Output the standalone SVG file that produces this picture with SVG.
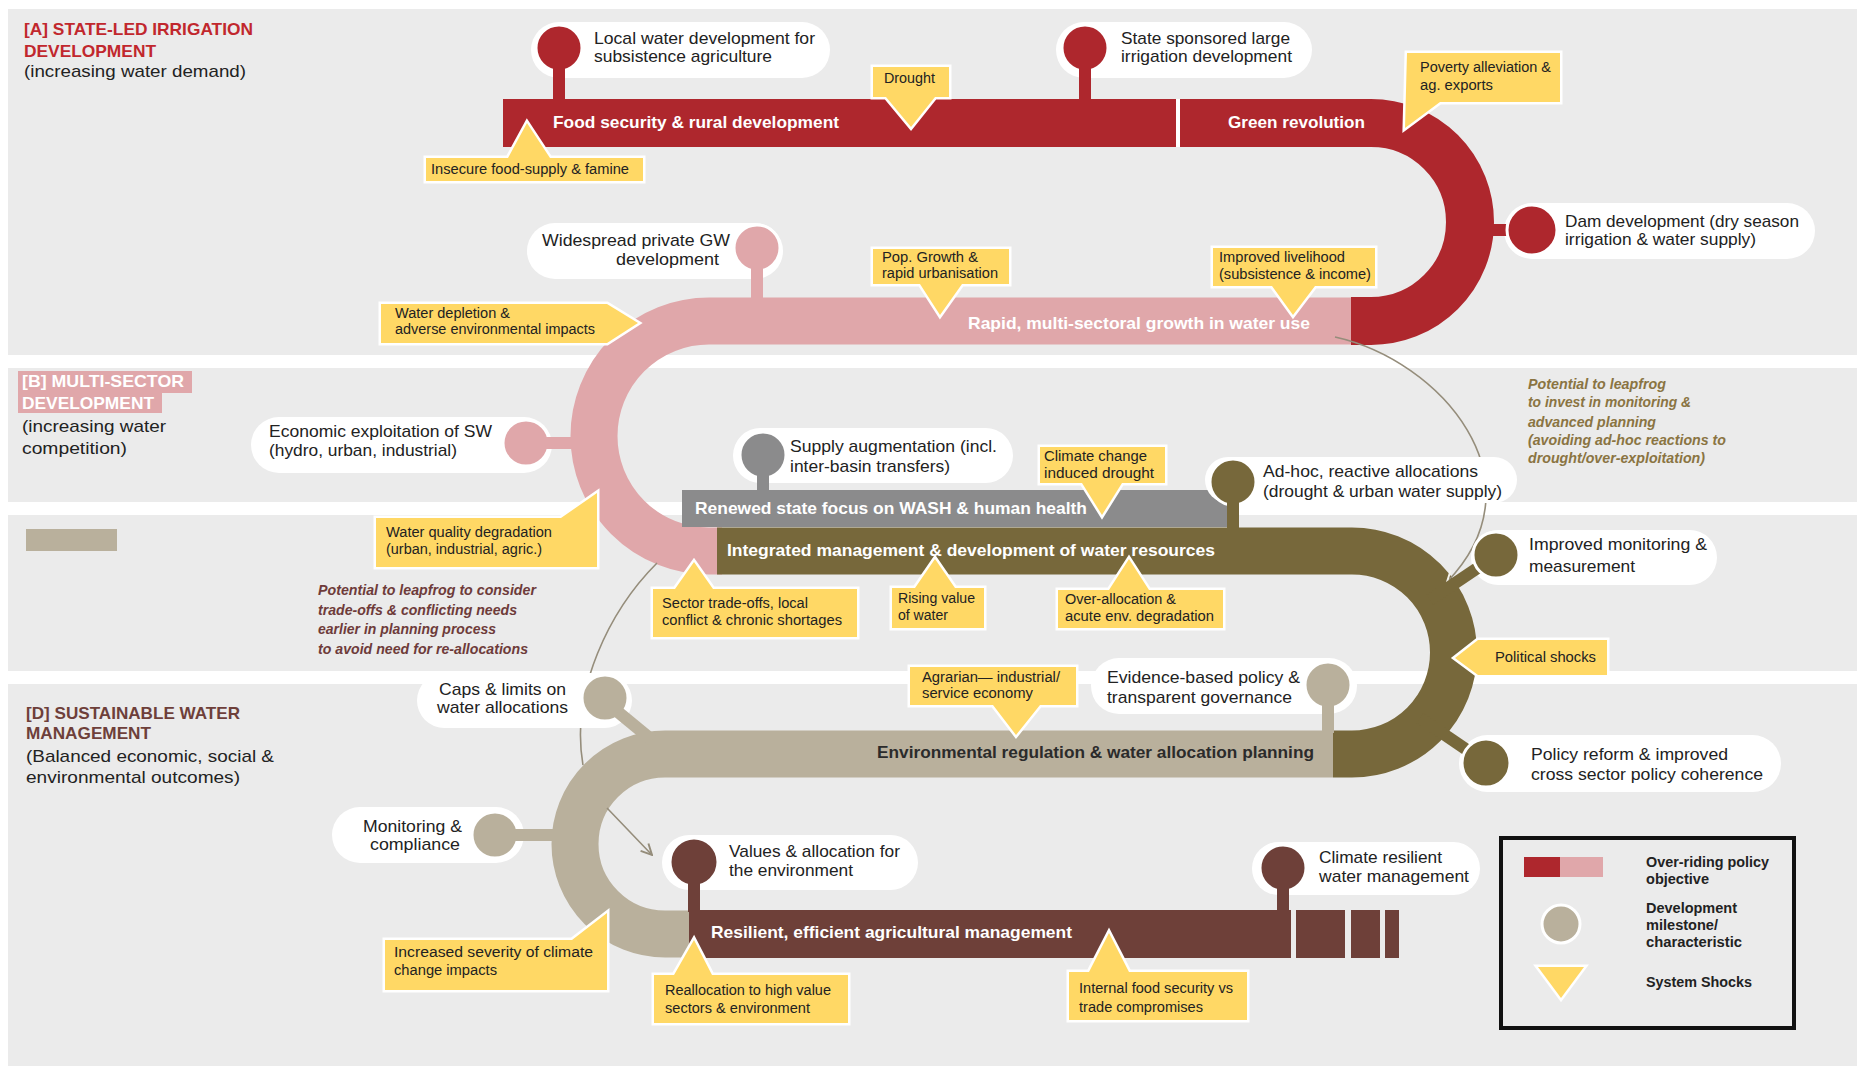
<svg xmlns="http://www.w3.org/2000/svg" width="1857" height="1068" viewBox="0 0 1857 1068">
<defs>
<style>
.bg{fill:#ebebeb}
.bub{fill:#fff}
.ms{stroke:#fff;stroke-width:3}
.shock{fill:#ffd865;stroke:#fff;stroke-width:5;paint-order:stroke;stroke-linejoin:miter}
text{font-family:"Liberation Sans",Arial,Helvetica,sans-serif}
.nt{font-size:17px;fill:#222}
.st{font-size:14px;fill:#222}
.pl{font-size:17px;font-weight:bold;fill:#fff}
.hd{font-size:17px;font-weight:bold}
.sub{font-size:17px;fill:#222}
.lf{font-size:14px;font-style:italic;font-weight:bold}
.lg{font-size:14px;font-weight:bold;fill:#222}
.conn{fill:none;stroke:#958d7b;stroke-width:1.6}
.red{fill:#ae272d;stroke:#ae272d}
.pink{fill:#e0a7aa;stroke:#e0a7aa}
.gray{fill:#8b8b8c;stroke:#8b8b8c}
.olive{fill:#77683b;stroke:#77683b}
.tan{fill:#b9b09c;stroke:#b9b09c}
.brown{fill:#6e4039;stroke:#6e4039}
.pipe{fill:none}
.stem{stroke-width:12;fill:none}
.ms{stroke:#fff;stroke-width:3}
.dk{fill:#2b2b2b}
</style>
<marker id="ahw" viewBox="0 0 12 12" refX="11" refY="6" markerWidth="13" markerHeight="13" orient="auto" markerUnits="userSpaceOnUse"><path d="M1,1 L11,6 L1,11" fill="none" stroke="#f4f2ec" stroke-width="1.8"/></marker>
<marker id="ahg" viewBox="0 0 12 12" refX="11" refY="6" markerWidth="13" markerHeight="13" orient="auto" markerUnits="userSpaceOnUse"><path d="M1,1 L11,6 L1,11" fill="none" stroke="#958d7b" stroke-width="1.8"/></marker>
</defs>

<rect width="1857" height="1068" fill="#fff"/>
<g id="panels">
<rect class="bg" x="8" y="9" width="1849" height="346"/>
<rect class="bg" x="8" y="368" width="1849" height="134"/>
<rect class="bg" x="8" y="515" width="1849" height="156"/>
<rect class="bg" x="8" y="684" width="1849" height="382"/>
</g>

<g id="panel-labels">
<text class="hd" x="24" y="35" fill="#c1272d" textLength="229" lengthAdjust="spacingAndGlyphs">[A] STATE-LED IRRIGATION</text>
<text class="hd" x="24" y="57" fill="#c1272d" textLength="132" lengthAdjust="spacingAndGlyphs">DEVELOPMENT</text>
<text class="sub" x="24" y="77" textLength="222" lengthAdjust="spacingAndGlyphs">(increasing water demand)</text>
<rect x="18" y="371" width="174" height="22" fill="#e0a7aa"/>
<rect x="18" y="393" width="144" height="20" fill="#e0a7aa"/>
<text class="hd" x="22" y="387" fill="#fff" textLength="162" lengthAdjust="spacingAndGlyphs">[B] MULTI-SECTOR</text>
<text class="hd" x="22" y="409" fill="#fff" textLength="132" lengthAdjust="spacingAndGlyphs">DEVELOPMENT</text>
<text class="sub" x="22" y="432" textLength="144" lengthAdjust="spacingAndGlyphs">(increasing water</text>
<text class="sub" x="22" y="454" textLength="105" lengthAdjust="spacingAndGlyphs">competition)</text>
<rect x="26" y="529" width="91" height="22" fill="#b9b09c"/>
<text class="hd" x="26" y="719" fill="#6e3f3a" textLength="214" lengthAdjust="spacingAndGlyphs">[D] SUSTAINABLE WATER</text>
<text class="hd" x="26" y="739" fill="#6e3f3a" textLength="125" lengthAdjust="spacingAndGlyphs">MANAGEMENT</text>
<text class="sub" x="26" y="762" textLength="248" lengthAdjust="spacingAndGlyphs">(Balanced economic, social &amp;</text>
<text class="sub" x="26" y="783" textLength="214" lengthAdjust="spacingAndGlyphs">environmental outcomes)</text>
</g>

<g id="pipe-pink">
<path class="pink pipe" d="M1351,321 H709 A115,115 0 0 0 709,551 H722" stroke-width="47"/>
<text class="pl" x="968" y="329" textLength="342" lengthAdjust="spacingAndGlyphs">Rapid, multi-sectoral growth in water use</text>
</g>
<g id="pipe-red">
<path class="red pipe" d="M503,123 H1371 A99,99 0 0 1 1371,321 H1351" stroke-width="48"/>
<rect x="1176" y="99" width="4" height="48" fill="#fff"/>
<text class="pl" x="553" y="128" textLength="286" lengthAdjust="spacingAndGlyphs">Food security &amp; rural development</text>
<text class="pl" x="1228" y="128" textLength="137" lengthAdjust="spacingAndGlyphs">Green revolution</text>
</g>
<g id="pipe-gray">
<rect x="682" y="490" width="546" height="37" fill="#8b8b8c"/>
<text class="pl" x="695" y="514" textLength="392" lengthAdjust="spacingAndGlyphs">Renewed state focus on WASH &amp; human health</text>
</g>
<g id="pipe-olive">
<path class="olive pipe" d="M717,551 H1352 A101.5,101.5 0 0 1 1352,754 H1333" stroke-width="47"/>
<text class="pl" x="727" y="556" textLength="488" lengthAdjust="spacingAndGlyphs">Integrated management &amp; development of water resources</text>
</g>
<g id="pipe-tan">
<path class="tan pipe" d="M1333,754 H665 A90,90 0 0 0 665,934 H692" stroke-width="47"/>
<text class="pl dk" x="877" y="758" textLength="437" lengthAdjust="spacingAndGlyphs">Environmental regulation &amp; water allocation planning</text>
</g>
<g id="pipe-brown">
<rect x="689" y="910" width="602" height="48" fill="#6e4039"/>
<rect x="1296" y="910" width="49" height="48" fill="#6e4039"/>
<rect x="1351" y="910" width="29" height="48" fill="#6e4039"/>
<rect x="1385" y="910" width="14" height="48" fill="#6e4039"/>
<text class="pl" x="711" y="938" textLength="361" lengthAdjust="spacingAndGlyphs">Resilient, efficient agricultural management</text>
</g>

<g id="connectors">
<path class="conn" d="M1335,337 C1440,360 1545,480 1447,582" marker-end="url(#ahw)"/>
<path class="conn" d="M657,563 C610,610 570,690 583,765 M607,808 L652,855" marker-end="url(#ahg)"/>
</g>

<g id="leapfrog-notes">
<g fill="#8a7442">
<text class="lf" x="1528" y="389" textLength="138" lengthAdjust="spacingAndGlyphs">Potential to leapfrog</text>
<text class="lf" x="1528" y="407" textLength="163" lengthAdjust="spacingAndGlyphs">to invest in monitoring &amp;</text>
<text class="lf" x="1528" y="427" textLength="128" lengthAdjust="spacingAndGlyphs">advanced planning</text>
<text class="lf" x="1528" y="445" textLength="198" lengthAdjust="spacingAndGlyphs">(avoiding ad-hoc reactions to</text>
<text class="lf" x="1528" y="463" textLength="177" lengthAdjust="spacingAndGlyphs">drought/over-exploitation)</text>
</g>
<g fill="#6e3b3a">
<text class="lf" x="318" y="595" textLength="218" lengthAdjust="spacingAndGlyphs">Potential to leapfrog to consider</text>
<text class="lf" x="318" y="615" textLength="199" lengthAdjust="spacingAndGlyphs">trade-offs &amp; conflicting needs</text>
<text class="lf" x="318" y="634" textLength="178" lengthAdjust="spacingAndGlyphs">earlier in planning process</text>
<text class="lf" x="318" y="654" textLength="210" lengthAdjust="spacingAndGlyphs">to avoid need for re-allocations</text>
</g>
</g>

<g id="n-local-water">
<rect class="bub" x="531" y="22" width="299" height="56" rx="28"/>
<circle class="red ms" cx="559" cy="48" r="23"/>
<line class="red stem" x1="559" y1="68" x2="559" y2="101"/>
<text class="nt" x="594" y="44" textLength="221" lengthAdjust="spacingAndGlyphs">Local water development for</text>
<text class="nt" x="594" y="62" textLength="178" lengthAdjust="spacingAndGlyphs">subsistence agriculture</text>
</g>
<g id="n-state-sponsored">
<rect class="bub" x="1056" y="22" width="256" height="56" rx="28"/>
<circle class="red ms" cx="1085" cy="48" r="23"/>
<line class="red stem" x1="1085" y1="68" x2="1085" y2="101"/>
<text class="nt" x="1121" y="44" textLength="169" lengthAdjust="spacingAndGlyphs">State sponsored large</text>
<text class="nt" x="1121" y="62" textLength="171" lengthAdjust="spacingAndGlyphs">irrigation development</text>
</g>
<g id="n-dam">
<rect class="bub" x="1504" y="203" width="311" height="56" rx="28"/>
<line class="red stem" x1="1480" y1="230" x2="1515" y2="230"/>
<circle class="red ms" cx="1532" cy="230" r="25"/>
<text class="nt" x="1565" y="227" textLength="234" lengthAdjust="spacingAndGlyphs">Dam development (dry season</text>
<text class="nt" x="1565" y="245" textLength="191" lengthAdjust="spacingAndGlyphs">irrigation &amp; water supply)</text>
</g>
<g id="n-widespread-gw">
<rect class="bub" x="527" y="223" width="256" height="56" rx="28"/>
<circle class="pink ms" cx="757" cy="248" r="23"/>
<line class="pink stem" x1="757" y1="268" x2="757" y2="300"/>
<text class="nt" x="542" y="246" textLength="188" lengthAdjust="spacingAndGlyphs">Widespread private GW</text>
<text class="nt" x="616" y="265" textLength="103" lengthAdjust="spacingAndGlyphs">development</text>
</g>
<g id="n-economic-sw">
<rect class="bub" x="251" y="417" width="301" height="56" rx="28"/>
<circle class="pink ms" cx="526" cy="443" r="23"/>
<line class="pink stem" x1="546" y1="443" x2="580" y2="443"/>
<text class="nt" x="269" y="437" textLength="223" lengthAdjust="spacingAndGlyphs">Economic exploitation of SW</text>
<text class="nt" x="269" y="456" textLength="188" lengthAdjust="spacingAndGlyphs">(hydro, urban, industrial)</text>
</g>
<g id="n-supply-augmentation">
<rect class="bub" x="733" y="428" width="280" height="55" rx="27.5"/>
<circle class="gray ms" cx="763" cy="455" r="23"/>
<line class="gray stem" x1="763" y1="475" x2="763" y2="492"/>
<text class="nt" x="790" y="452" textLength="207" lengthAdjust="spacingAndGlyphs">Supply augmentation (incl.</text>
<text class="nt" x="790" y="472" textLength="160" lengthAdjust="spacingAndGlyphs">inter-basin transfers)</text>
</g>
<g id="n-adhoc">
<rect class="bub" x="1205" y="457" width="312" height="46" rx="23"/>
<circle class="olive ms" cx="1233" cy="482" r="23"/>
<line class="olive stem" x1="1233" y1="502" x2="1233" y2="530"/>
<text class="nt" x="1263" y="477" textLength="215" lengthAdjust="spacingAndGlyphs">Ad-hoc, reactive allocations</text>
<text class="nt" x="1263" y="497" textLength="239" lengthAdjust="spacingAndGlyphs">(drought &amp; urban water supply)</text>
</g>
<g id="n-improved-monitoring">
<rect class="bub" x="1471" y="530" width="246" height="55" rx="27.5"/>
<line class="olive stem" x1="1430" y1="600" x2="1482" y2="565"/>
<circle class="olive ms" cx="1496" cy="555" r="23"/>
<text class="nt" x="1529" y="550" textLength="178" lengthAdjust="spacingAndGlyphs">Improved monitoring &amp;</text>
<text class="nt" x="1529" y="572" textLength="106" lengthAdjust="spacingAndGlyphs">measurement</text>
</g>
<g id="n-policy-reform">
<rect class="bub" x="1459" y="735" width="322" height="57" rx="28.5"/>
<line class="olive stem" x1="1420" y1="718" x2="1470" y2="752"/>
<circle class="olive ms" cx="1486" cy="763" r="24"/>
<text class="nt" x="1531" y="760" textLength="197" lengthAdjust="spacingAndGlyphs">Policy reform &amp; improved</text>
<text class="nt" x="1531" y="780" textLength="232" lengthAdjust="spacingAndGlyphs">cross sector policy coherence</text>
</g>
<g id="n-evidence-based">
<rect class="bub" x="1091" y="658" width="266" height="56" rx="28"/>
<circle class="tan ms" cx="1328" cy="685" r="23"/>
<line class="tan stem" x1="1328" y1="705" x2="1328" y2="733"/>
<text class="nt" x="1107" y="683" textLength="193" lengthAdjust="spacingAndGlyphs">Evidence-based policy &amp;</text>
<text class="nt" x="1107" y="703" textLength="185" lengthAdjust="spacingAndGlyphs">transparent governance</text>
</g>
<g id="n-caps-limits">
<rect class="bub" x="417" y="673" width="215" height="55" rx="27.5"/>
<circle class="tan ms" cx="605" cy="698" r="23"/>
<line class="tan stem" x1="618" y1="712" x2="652" y2="740"/>
<text class="nt" x="439" y="695" textLength="127" lengthAdjust="spacingAndGlyphs">Caps &amp; limits on</text>
<text class="nt" x="437" y="713" textLength="131" lengthAdjust="spacingAndGlyphs">water allocations</text>
</g>
<g id="n-monitoring-compliance">
<rect class="bub" x="332" y="807" width="192" height="56" rx="28"/>
<circle class="tan ms" cx="495" cy="835" r="23"/>
<line class="tan stem" x1="515" y1="835" x2="560" y2="835"/>
<text class="nt" x="363" y="832" textLength="99" lengthAdjust="spacingAndGlyphs">Monitoring &amp;</text>
<text class="nt" x="370" y="850" textLength="90" lengthAdjust="spacingAndGlyphs">compliance</text>
</g>
<g id="n-values-environment">
<rect class="bub" x="662" y="835" width="256" height="55" rx="27.5"/>
<circle class="brown ms" cx="694" cy="862" r="24"/>
<line class="brown stem" x1="694" y1="882" x2="694" y2="912"/>
<text class="nt" x="729" y="857" textLength="171" lengthAdjust="spacingAndGlyphs">Values &amp; allocation for</text>
<text class="nt" x="729" y="876" textLength="124" lengthAdjust="spacingAndGlyphs">the environment</text>
</g>
<g id="n-climate-resilient">
<rect class="bub" x="1252" y="842" width="228" height="53" rx="26.5"/>
<circle class="brown ms" cx="1283" cy="868" r="23"/>
<line class="brown stem" x1="1283" y1="888" x2="1283" y2="912"/>
<text class="nt" x="1319" y="863" textLength="123" lengthAdjust="spacingAndGlyphs">Climate resilient</text>
<text class="nt" x="1319" y="882" textLength="150" lengthAdjust="spacingAndGlyphs">water management</text>
</g>

<g id="s-insecure-food">
<path class="shock" d="M426,158 H508 L527,123 L550,158 H643 V181 H426 Z"/>
<text class="st" x="431" y="174" textLength="198" lengthAdjust="spacingAndGlyphs">Insecure food-supply &amp; famine</text>
</g>
<g id="s-drought">
<path class="shock" d="M873,67 H949 V97 H935 L911,127 L886,97 H873 Z"/>
<text class="st" x="884" y="83" textLength="51" lengthAdjust="spacingAndGlyphs">Drought</text>
</g>
<g id="s-poverty">
<path class="shock" d="M1407,53 H1560 V102 H1440 L1405,128 Z"/>
<text class="st" x="1420" y="72" textLength="131" lengthAdjust="spacingAndGlyphs">Poverty alleviation &amp;</text>
<text class="st" x="1420" y="90" textLength="73" lengthAdjust="spacingAndGlyphs">ag. exports</text>
</g>
<g id="s-pop-growth">
<path class="shock" d="M873,249 H1009 V284 H962 L940,315 L920,284 H873 Z"/>
<text class="st" x="882" y="262" textLength="96" lengthAdjust="spacingAndGlyphs">Pop. Growth &amp;</text>
<text class="st" x="882" y="278" textLength="116" lengthAdjust="spacingAndGlyphs">rapid urbanisation</text>
</g>
<g id="s-livelihood">
<path class="shock" d="M1213,248 H1375 V286 H1315 L1293,315 L1272,286 H1213 Z"/>
<text class="st" x="1219" y="262" textLength="126" lengthAdjust="spacingAndGlyphs">Improved livelihood</text>
<text class="st" x="1219" y="279" textLength="152" lengthAdjust="spacingAndGlyphs">(subsistence &amp; income)</text>
</g>
<g id="s-water-depletion">
<path class="shock" d="M381,304 H607 L638,323 L607,343 H381 Z"/>
<text class="st" x="395" y="318" textLength="115" lengthAdjust="spacingAndGlyphs">Water depletion &amp;</text>
<text class="st" x="395" y="334" textLength="200" lengthAdjust="spacingAndGlyphs">adverse environmental impacts</text>
</g>
<g id="s-water-quality">
<path class="shock" d="M376,518 H561 L597,493 V567 H376 Z"/>
<text class="st" x="386" y="537" textLength="166" lengthAdjust="spacingAndGlyphs">Water quality degradation</text>
<text class="st" x="386" y="554" textLength="156" lengthAdjust="spacingAndGlyphs">(urban, industrial, agric.)</text>
</g>
<g id="s-climate-drought">
<path class="shock" d="M1040,447 H1165 V483 H1122 L1102,515 L1082,483 H1040 Z"/>
<text class="st" x="1044" y="461" textLength="103" lengthAdjust="spacingAndGlyphs">Climate change</text>
<text class="st" x="1044" y="478" textLength="110" lengthAdjust="spacingAndGlyphs">induced drought</text>
</g>
<g id="s-sector-tradeoffs">
<path class="shock" d="M653,589 H675 L694,562 L713,589 H857 V637 H653 Z"/>
<text class="st" x="662" y="608" textLength="146" lengthAdjust="spacingAndGlyphs">Sector trade-offs, local</text>
<text class="st" x="662" y="625" textLength="180" lengthAdjust="spacingAndGlyphs">conflict &amp; chronic shortages</text>
</g>
<g id="s-rising-value">
<path class="shock" d="M892,588 H915 L935,559 L955,588 H984 V628 H892 Z"/>
<text class="st" x="898" y="603" textLength="77" lengthAdjust="spacingAndGlyphs">Rising value</text>
<text class="st" x="898" y="620" textLength="50" lengthAdjust="spacingAndGlyphs">of water</text>
</g>
<g id="s-over-allocation">
<path class="shock" d="M1058,590 H1109 L1129,559 L1149,590 H1223 V628 H1058 Z"/>
<text class="st" x="1065" y="604" textLength="111" lengthAdjust="spacingAndGlyphs">Over-allocation &amp;</text>
<text class="st" x="1065" y="621" textLength="149" lengthAdjust="spacingAndGlyphs">acute env. degradation</text>
</g>
<g id="s-political">
<path class="shock" d="M1478,640 H1607 V675 H1478 L1455,658 Z"/>
<text class="st" x="1495" y="662" textLength="101" lengthAdjust="spacingAndGlyphs">Political shocks</text>
</g>
<g id="s-agrarian">
<path class="shock" d="M910,667 H1076 V705 H1040 L1016,735 L993,705 H910 Z"/>
<text class="st" x="922" y="682" textLength="138" lengthAdjust="spacingAndGlyphs">Agrarian— industrial/</text>
<text class="st" x="922" y="698" textLength="111" lengthAdjust="spacingAndGlyphs">service economy</text>
</g>
<g id="s-climate-severity">
<path class="shock" d="M385,940 H572 L607,913 V990 H385 Z"/>
<text class="st" x="394" y="957" textLength="199" lengthAdjust="spacingAndGlyphs">Increased severity of climate</text>
<text class="st" x="394" y="975" textLength="103" lengthAdjust="spacingAndGlyphs">change impacts</text>
</g>
<g id="s-reallocation">
<path class="shock" d="M654,975 H674 L694,940 L712,975 H848 V1023 H654 Z"/>
<text class="st" x="665" y="995" textLength="166" lengthAdjust="spacingAndGlyphs">Reallocation to high value</text>
<text class="st" x="665" y="1013" textLength="145" lengthAdjust="spacingAndGlyphs">sectors &amp; environment</text>
</g>
<g id="s-internal-food">
<path class="shock" d="M1069,972 H1089 L1109,933 L1129,972 H1247 V1020 H1069 Z"/>
<text class="st" x="1079" y="993" textLength="154" lengthAdjust="spacingAndGlyphs">Internal food security vs</text>
<text class="st" x="1079" y="1012" textLength="124" lengthAdjust="spacingAndGlyphs">trade compromises</text>
</g>

<g id="legend">
<rect x="1501" y="838" width="293" height="190" fill="none" stroke="#111" stroke-width="4"/>
<rect x="1524" y="857" width="36" height="20" fill="#ae272d"/>
<rect x="1560" y="857" width="43" height="20" fill="#e0a7aa"/>
<circle class="tan ms" cx="1561" cy="924" r="19"/>
<path class="shock" d="M1538,967 H1584 L1561,998 Z"/>
<text class="lg" x="1646" y="867" textLength="123" lengthAdjust="spacingAndGlyphs">Over-riding policy</text>
<text class="lg" x="1646" y="884" textLength="63" lengthAdjust="spacingAndGlyphs">objective</text>
<text class="lg" x="1646" y="913" textLength="91" lengthAdjust="spacingAndGlyphs">Development</text>
<text class="lg" x="1646" y="930" textLength="72" lengthAdjust="spacingAndGlyphs">milestone/</text>
<text class="lg" x="1646" y="947" textLength="96" lengthAdjust="spacingAndGlyphs">characteristic</text>
<text class="lg" x="1646" y="987" textLength="106" lengthAdjust="spacingAndGlyphs">System Shocks</text>
</g>
</svg>
